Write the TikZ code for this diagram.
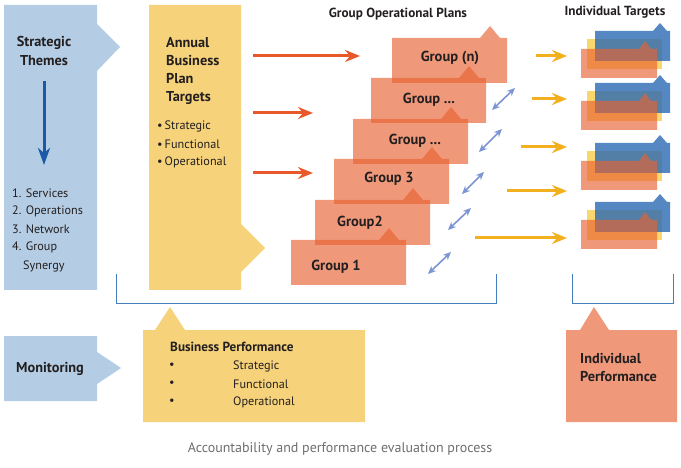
\documentclass[tikz,border=0pt]{standalone}
\usepackage{fontspec}
\setmainfont{PT Sans}
\usetikzlibrary{arrows.meta}

\definecolor{themeblue}{RGB}{180,205,228}
\definecolor{planyellow}{RGB}{246,210,122}
\definecolor{groupred}{RGB}{232,98,50}
\definecolor{salmon}{RGB}{240,152,122}
\definecolor{txt}{RGB}{35,31,32}
\definecolor{deepblue}{RGB}{28,90,166}
\definecolor{redarrow}{RGB}{232,88,42}
\definecolor{goldarrow}{RGB}{242,176,30}
\definecolor{linkblue}{RGB}{125,148,212}
\definecolor{bracketblue}{RGB}{70,125,190}
\definecolor{tgtblue}{RGB}{42,105,180}
\definecolor{tgtyellow}{RGB}{250,215,110}
\definecolor{captiongray}{RGB}{110,110,113}

\tikzset{
  lbl/.style={font=\fontsize{12.2}{14}\selectfont, text=txt, inner sep=0pt},
  big/.style={font=\fontsize{14.3}{17}\selectfont\bfseries, text=txt, inner sep=0pt},
  head/.style={font=\fontsize{13.2}{15}\selectfont\bfseries, text=txt, inner sep=0pt},
  grouplbl/.style={font=\fontsize{14.5}{17}\selectfont\bfseries, text=txt, inner sep=0pt},
  redflow/.style={draw=redarrow, line width=3pt, -{Stealth[length=15pt,width=12pt,inset=5pt]}},
  goldflow/.style={draw=goldarrow, line width=3pt, -{Stealth[length=15pt,width=12pt,inset=5pt]}},
  linkflow/.style={draw=linkblue, line width=1.6pt, {Stealth[length=8pt,width=7pt,inset=2.5pt]}-{Stealth[length=8pt,width=7pt,inset=2.5pt]}},
  bracket/.style={draw=bracketblue, line width=1pt},
  % one group card: 115 x 45 with a small tab on its top edge
  groupcard/.pic={
    \fill[groupred, opacity=0.65] (0,0) -- (88,0) -- (98,-12) -- (108,0) -- (115,0)
      -- (115,45) -- (0,45) -- cycle;
  },
  % a stack of three individual target cards
  targetstack/.pic={
    \fill[tgtyellow] (-8,8) rectangle (67,38);
    \fill[tgtblue, opacity=0.8] (0,0) -- (58,0) -- (65,-8) -- (72,0) -- (75,0)
      -- (75,30) -- (0,30) -- cycle;
    \fill[groupred, opacity=0.65] (-14,18) -- (44,18) -- (50,10) -- (56,18) -- (62,18)
      -- (62,47) -- (-14,47) -- cycle;
  }
}

\begin{document}
\begin{tikzpicture}[x=1pt,y=-1pt]
\useasboundingbox (0,0) rectangle (681,468);

% Strategic themes column
\fill[themeblue] (4,5) -- (97,5) -- (97,24) -- (120,47) -- (97,71) -- (97,290) -- (4,290) -- cycle;
\node[big] (themes1) at (44,43) {Strategic};
\node[big] (themes2) at (44,61) {Themes};
\coordinate (themesTop) at (44,81);
\coordinate (themesBot) at (44,165);
\draw[deepblue, line width=3pt, -{Stealth[length=17pt,width=12pt,inset=5pt]}] (themesTop) -- (themesBot);
\node[lbl, anchor=west] (t1) at (12,193) {1. Services};
\node[lbl, anchor=west] (t2) at (12,211) {2. Operations};
\node[lbl, anchor=west] (t3) at (12,229) {3. Network};
\node[lbl, anchor=west] (t4) at (12,247) {4. Group};
\node[lbl, anchor=west] (t5) at (23,266) {Synergy};

% Annual business plan targets column
\fill[planyellow] (149,5) -- (241,5) -- (241,224) -- (265,248) -- (241,272) -- (241,290) -- (149,290) -- cycle;
\node[big, anchor=west] (ann1) at (166,43) {Annual};
\node[big, anchor=west] (ann2) at (166,61) {Business};
\node[big, anchor=west] (ann3) at (166,79) {Plan};
\node[big, anchor=west] (ann4) at (166,98) {Targets};
\node[lbl, anchor=west] (ab1) at (157,126) {\textbullet\,Strategic};
\node[lbl, anchor=west] (ab2) at (157,144) {\textbullet\,Functional};
\node[lbl, anchor=west] (ab3) at (157,162) {\textbullet\,Operational};

% Group operational plans
\node[head] (gopTitle) at (398,14) {Group Operational Plans};
\pic at (392,38) {groupcard};
\pic at (371,78) {groupcard};
\pic at (353,119) {groupcard};
\pic at (334,159) {groupcard};
\pic at (315,200) {groupcard};
\pic at (291,240) {groupcard};
\node[grouplbl] (gn) at (450,58) {Group (n)};
\node[grouplbl] (g5) at (429,100) {Group ...};
\node[grouplbl] (g4) at (415,141) {Group ...};
\node[grouplbl] (g3) at (389,179) {Group 3};
\node[grouplbl] (g2) at (360,223) {Group2};
\node[grouplbl] (g1) at (336,267) {Group 1};

% plan targets flowing into group plans
\coordinate (ra1) at (253,56);  \coordinate (rb1) at (360,56);
\coordinate (ra2) at (253,113); \coordinate (rb2) at (313,113);
\coordinate (ra3) at (253,173); \coordinate (rb3) at (313,173);
\draw[redflow] (ra1) -- (rb1);
\draw[redflow] (ra2) -- (rb2);
\draw[redflow] (ra3) -- (rb3);

% links between group plans and individual targets
\coordinate (la1) at (428,274); \coordinate (lb1) at (451,252);
\coordinate (la2) at (448,230); \coordinate (lb2) at (471,208);
\coordinate (la3) at (462,194); \coordinate (lb3) at (484,172);
\coordinate (la4) at (479,152); \coordinate (lb4) at (502,129);
\coordinate (la5) at (492,110); \coordinate (lb5) at (515,88);
\foreach \i in {1,...,5} \draw[linkflow] (la\i) -- (lb\i);

% individual targets
\node[head] (itTitle) at (615,12) {Individual Targets};
\pic at (595,31) {targetstack};
\pic at (595,83) {targetstack};
\pic at (595,143) {targetstack};
\pic at (595,202) {targetstack};

\coordinate (ya1) at (536,56);  \coordinate (yb1) at (567,56);
\coordinate (ya2) at (532,99);  \coordinate (yb2) at (567,99);
\coordinate (ya3) at (521,147); \coordinate (yb3) at (567,147);
\coordinate (ya4) at (507,191); \coordinate (yb4) at (567,191);
\coordinate (ya5) at (475,238); \coordinate (yb5) at (567,238);
\foreach \i in {1,...,5} \draw[goldflow] (ya\i) -- (yb\i);

% brackets gathering plans and targets
\draw[bracket] (116,274) -- (116,303) -- (496,303) -- (496,274);
\draw[bracket] (572,274) -- (572,303) -- (673,303) -- (673,274);

% monitoring row
\fill[themeblue] (4,336) -- (97,336) -- (97,352) -- (121,368) -- (97,384) -- (97,401) -- (4,401) -- cycle;
\node[big, anchor=west] (mon) at (16,369) {Monitoring};

\fill[planyellow] (143,330) -- (155,330) -- (170,307) -- (185,330) -- (365,330) -- (365,422) -- (143,422) -- cycle;
\node[head, anchor=west] (bp) at (170,347) {Business Performance};
\node[lbl] (bpd1) at (172,366) {\textbullet};
\node[lbl] (bpd2) at (172,384) {\textbullet};
\node[lbl] (bpd3) at (172,402) {\textbullet};
\node[lbl, anchor=west] (bp1) at (233,366) {Strategic};
\node[lbl, anchor=west] (bp2) at (233,384) {Functional};
\node[lbl, anchor=west] (bp3) at (233,402) {Operational};

\fill[salmon] (566,330) -- (580,330) -- (594,307) -- (609,330) -- (677,330) -- (677,422) -- (566,422) -- cycle;
\node[big, anchor=west] (ip1) at (580,359) {Individual};
\node[big, anchor=west] (ip2) at (580,377) {Performance};

% caption
\node[font=\fontsize{14}{16}\selectfont, text=captiongray, inner sep=0pt] (cap) at (340,449)
  {Accountability and performance evaluation process};
\end{tikzpicture}
\end{document}
